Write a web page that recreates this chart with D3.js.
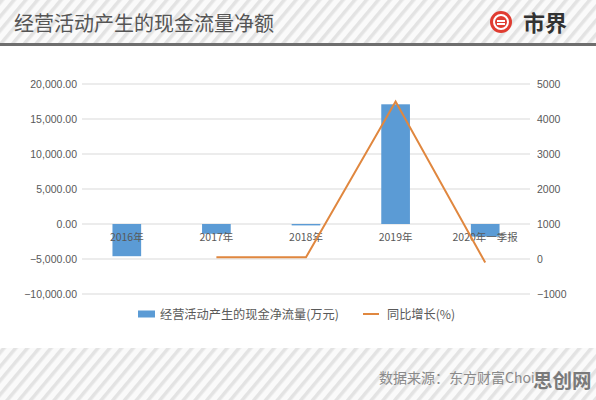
<!DOCTYPE html>
<html>
<head>
<meta charset="utf-8">
<script src="https://cdn.jsdelivr.net/npm/d3@7"></script>
<style>
  body { margin: 0; background: #fff; }
  svg { display: block; font-family: "Noto Sans CJK SC", "Microsoft YaHei", sans-serif; }
</style>
</head>
<body>
<div id="chart"></div>
<script>
const categories = ["2016年", "2017年", "2018年", "2019年", "2020年一季报"];
const cashFlow = [-4600, -1400, -200, 17100, -1800];
const yoyGrowth = [null, 50, 50, 4500, -100];
const leftTicks = [-10000, -5000, 0, 5000, 10000, 15000, 20000];
const rightTicks = [-1000, 0, 1000, 2000, 3000, 4000, 5000];

function drawChart(selectorContainer) {
  const W = 596, H = 400;
  const blue = "#5b9bd5", orange = "#e0873f";
  const svg = d3.select(selectorContainer).append("svg")
    .attr("width", W).attr("height", H);

  // striped background
  const defs = svg.append("defs");
  const pat = defs.append("pattern")
    .attr("id", "stripes")
    .attr("width", 9).attr("height", 9)
    .attr("patternUnits", "userSpaceOnUse")
    .attr("patternTransform", "rotate(40)");
  pat.append("rect").attr("width", 9).attr("height", 9).attr("fill", "#fafafa");
  pat.append("rect").attr("width", 3.5).attr("height", 9).attr("fill", "#e3e3e3");

  svg.append("rect").attr("width", W).attr("height", H).attr("fill", "url(#stripes)");
  svg.append("rect").attr("x", 0).attr("y", 46).attr("width", W).attr("height", 302).attr("fill", "#fff");
  svg.append("rect").attr("x", 0).attr("y", 43).attr("width", W).attr("height", 3).attr("fill", "#6e6e6e");

  // faint watermarks
  [[150, 268], [270, 205], [460, 120]].forEach(p => {
    svg.append("text").attr("transform", "translate(" + p[0] + "," + p[1] + ") rotate(-35)")
      .attr("text-anchor", "middle").attr("font-size", 40).attr("font-weight", "bold")
      .attr("fill", "#000").attr("fill-opacity", 0.025)
      .text("市界");
  });

  // title
  svg.append("text").attr("x", 14).attr("y", 31)
    .attr("font-size", 20).attr("fill", "#555")
    .text("经营活动产生的现金流量净额");

  // logo
  const logo = svg.append("g").attr("transform", "translate(501,22)");
  logo.append("circle").attr("r", 11).attr("fill", "#e03c31");
  logo.append("circle").attr("r", 7).attr("fill", "none").attr("stroke", "#fff").attr("stroke-width", 2);
  logo.append("path").attr("d", "M-4,-1 L4,-1 M-4,2 L4,2").attr("stroke", "#fff").attr("stroke-width", 2);
  svg.append("text").attr("x", 523).attr("y", 31)
    .attr("font-size", 22).attr("font-weight", "bold").attr("fill", "#333")
    .text("市界");

  const margin = { left: 82, right: 530, top: 84, bottom: 294 };
  const x = d3.scaleBand().domain(categories).range([margin.left, margin.right]).paddingInner(0.68).paddingOuter(0.34);
  const yL = d3.scaleLinear().domain([-10000, 20000]).range([margin.bottom, margin.top]);
  const yR = d3.scaleLinear().domain([-1000, 5000]).range([margin.bottom, margin.top]);

  // gridlines
  svg.append("g").selectAll("line").data(leftTicks).enter().append("line")
    .attr("x1", margin.left).attr("x2", margin.right)
    .attr("y1", d => yL(d)).attr("y2", d => yL(d))
    .attr("stroke", "#d9d9d9").attr("stroke-width", 1);

  // left axis
  const fmt = d3.format(",.2f");
  svg.append("g").attr("transform", "translate(" + margin.left + ",0)")
    .call(d3.axisLeft(yL).tickValues(leftTicks).tickFormat(fmt).tickSize(0).tickPadding(5))
    .call(g => g.select(".domain").remove())
    .call(g => g.selectAll("text").attr("font-size", 10.5).attr("fill", "#595959")
      .attr("font-family", "Liberation Sans, Arial, sans-serif"));

  // right axis
  svg.append("g").attr("transform", "translate(" + margin.right + ",0)")
    .call(d3.axisRight(yR).tickValues(rightTicks).tickFormat(d3.format("d")).tickSize(0).tickPadding(7))
    .call(g => g.select(".domain").remove())
    .call(g => g.selectAll("text").attr("font-size", 10.5).attr("fill", "#595959")
      .attr("font-family", "Liberation Sans, Arial, sans-serif"));

  // bars
  svg.append("g").selectAll("rect").data(categories).enter().append("rect")
    .attr("x", d => x(d))
    .attr("width", x.bandwidth())
    .attr("y", (d, i) => yL(Math.max(0, cashFlow[i])))
    .attr("height", (d, i) => Math.max(1, Math.abs(yL(cashFlow[i]) - yL(0))))
    .attr("fill", blue);

  // category labels at zero line
  svg.append("g").selectAll("text").data(categories).enter().append("text")
    .attr("x", d => x(d) + x.bandwidth() / 2)
    .attr("y", yL(0) + 17)
    .attr("text-anchor", "middle")
    .attr("font-size", 10.5).attr("fill", "#595959")
    .text(d => d);

  // growth line
  const pts = categories.map((c, i) => ({ c, v: yoyGrowth[i] })).filter(d => d.v !== null);
  const line = d3.line().x(d => x(d.c) + x.bandwidth() / 2).y(d => yR(d.v));
  svg.append("path").datum(pts)
    .attr("d", line)
    .attr("fill", "none").attr("stroke", orange).attr("stroke-width", 2);

  // legend
  const lg = svg.append("g").attr("transform", "translate(0,314)");
  lg.append("rect").attr("x", 138).attr("y", -3.5).attr("width", 17).attr("height", 7).attr("fill", blue);
  lg.append("text").attr("x", 160).attr("y", 4.5).attr("font-size", 12.2).attr("fill", "#595959")
    .text("经营活动产生的现金净流量(万元)");
  lg.append("line").attr("x1", 363).attr("x2", 379).attr("y1", 0).attr("y2", 0)
    .attr("stroke", orange).attr("stroke-width", 2);
  lg.append("text").attr("x", 387).attr("y", 4.5).attr("font-size", 12.2).attr("fill", "#595959")
    .text("同比增长(%)");

  // footer
  svg.append("text").attr("x", 379).attr("y", 383).attr("font-size", 14).attr("fill", "#8a8a8a")
    .text("数据来源：东方财富Choice");
  svg.append("text").attr("x", 533).attr("y", 388).attr("font-size", 19.5).attr("font-weight", "bold")
    .attr("fill", "#7a7a7a").attr("stroke", "url(#stripes)").attr("stroke-width", 4)
    .attr("paint-order", "stroke")
    .text("思创网");
}

window.onload = () => {
  drawChart("#chart");
}
</script>
</body>
</html>
